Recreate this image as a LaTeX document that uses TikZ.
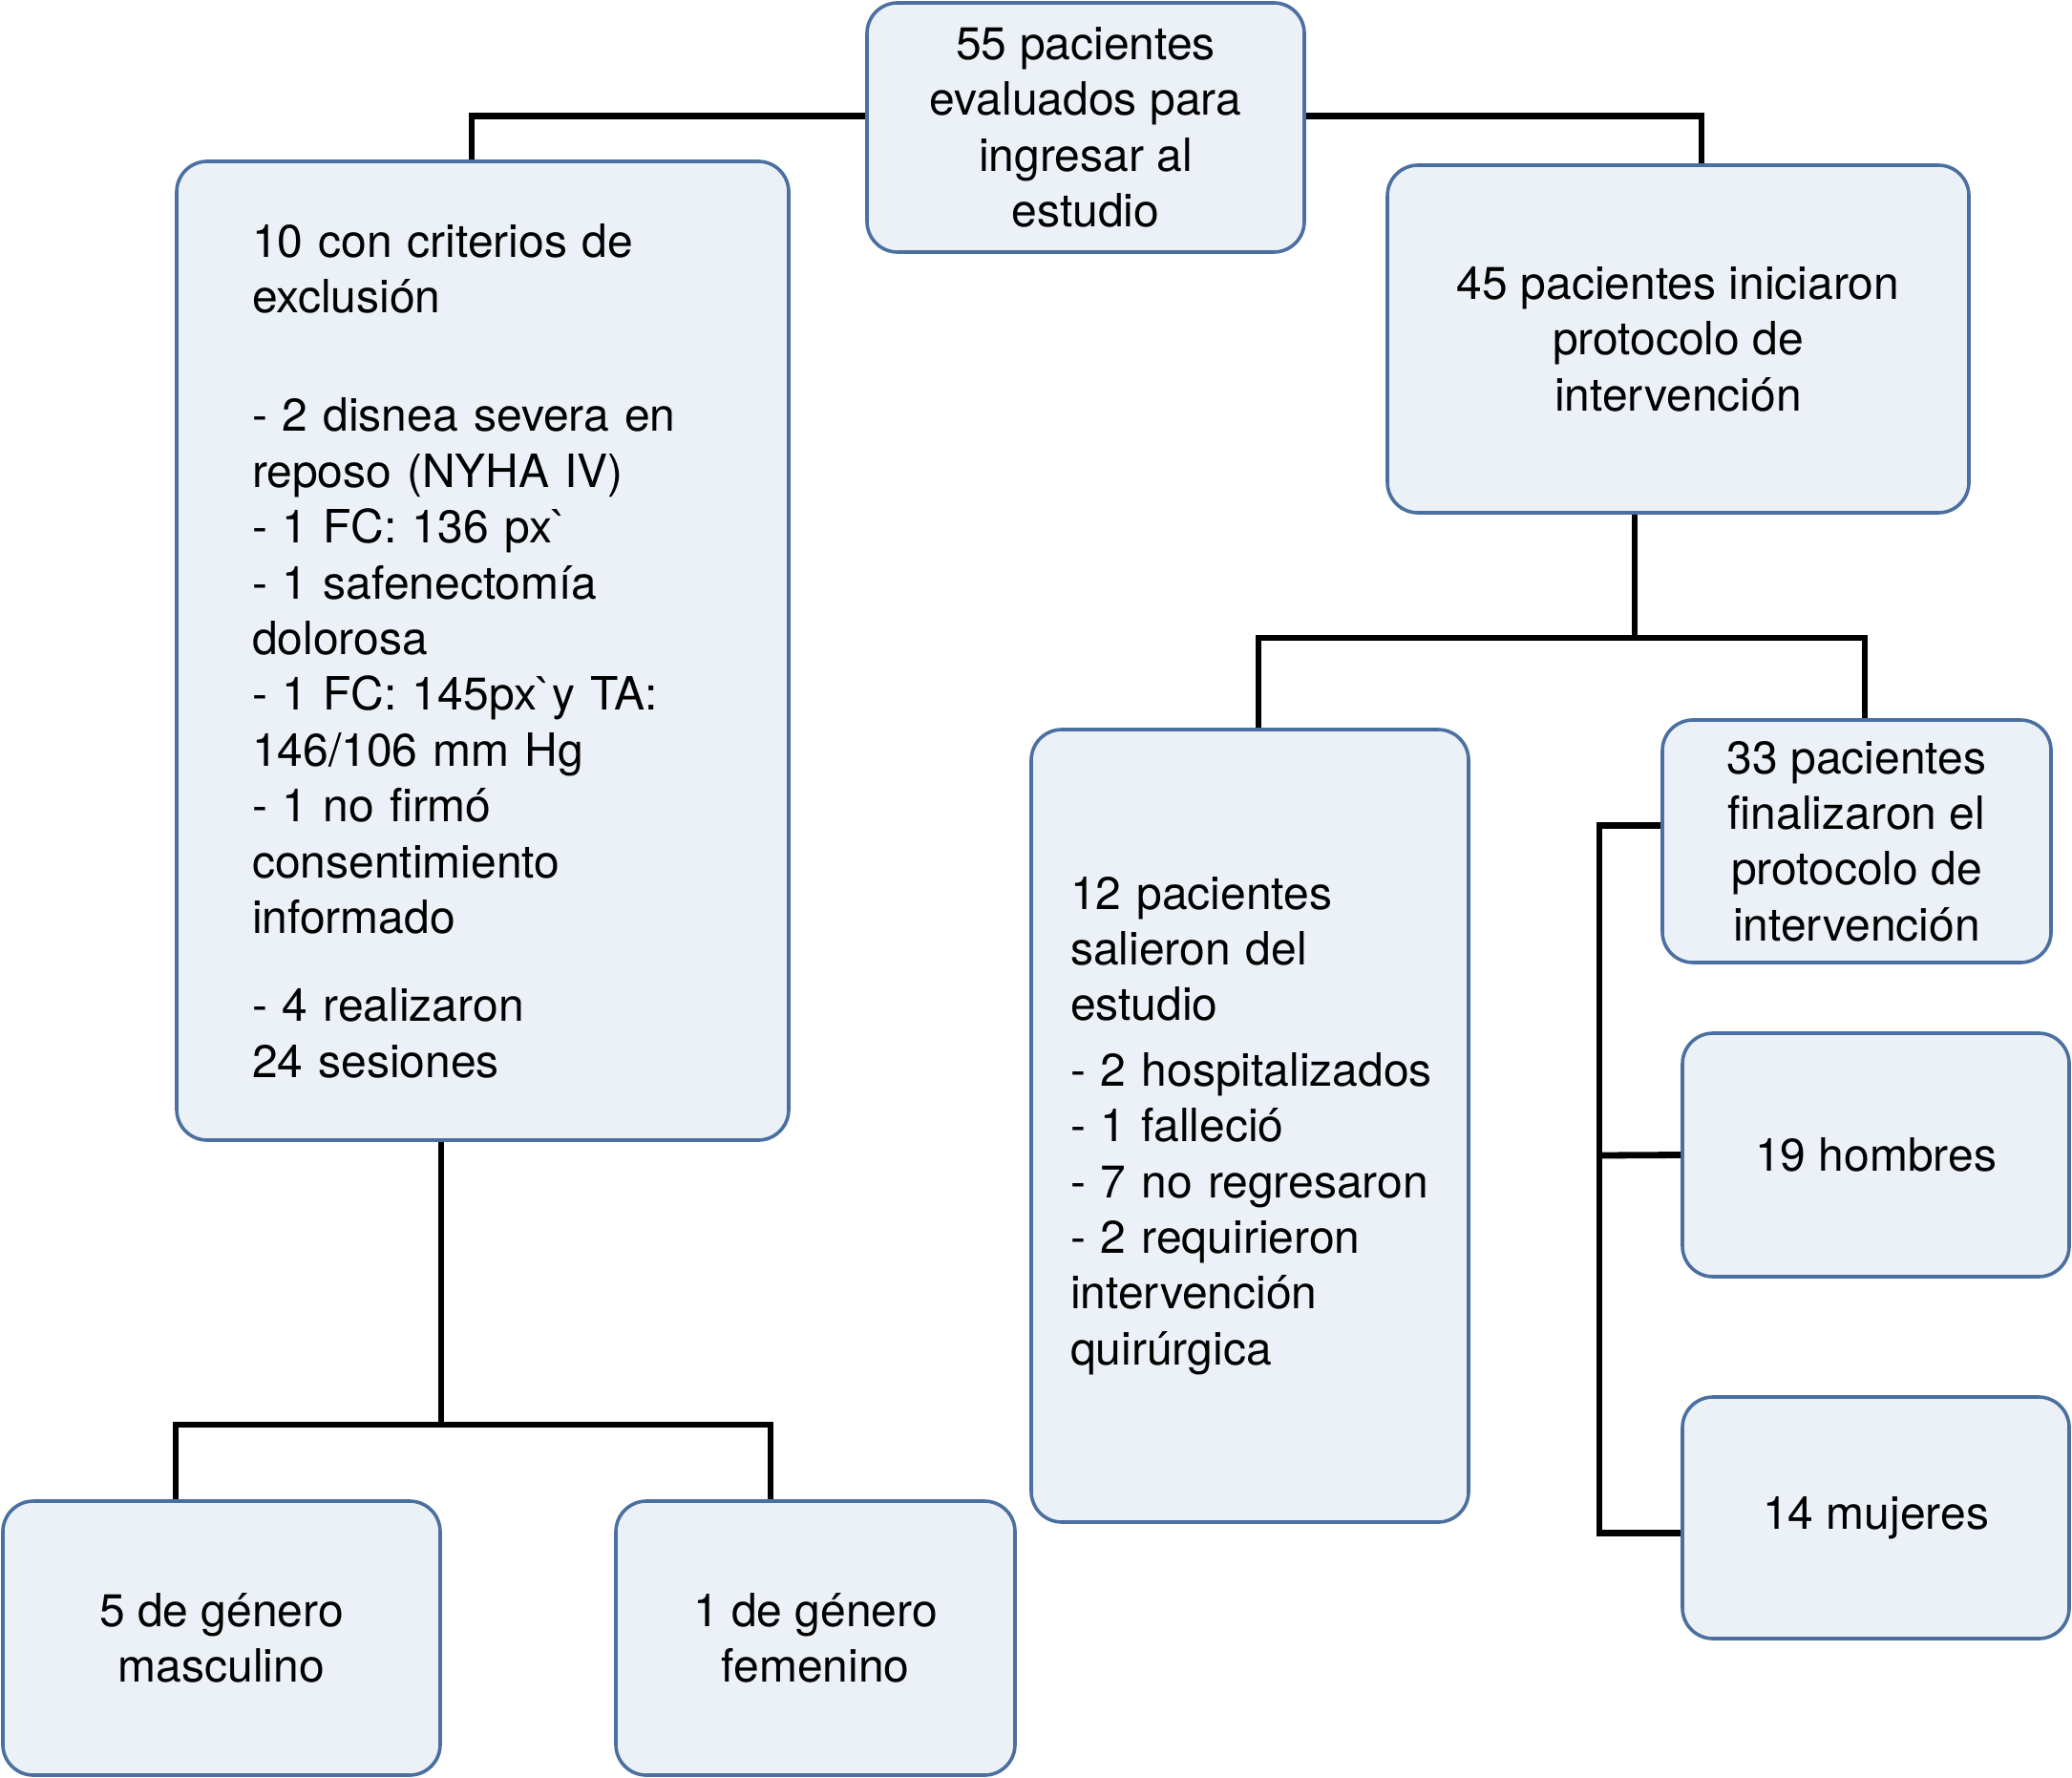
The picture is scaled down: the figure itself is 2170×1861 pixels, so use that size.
\documentclass[tikz,border=0pt]{standalone}
\usepackage{fontspec}
\setmainfont{TeX Gyre Heros}
\definecolor{boxline}{HTML}{4A6FA0}
\definecolor{boxfill}{HTML}{ECF0F7}
\newcommand\flowbox[7]{\node[#1, minimum width=#5*0.25pt, minimum height=#6*0.25pt] (#2) at ({#3+#5/2},{#4+#6/2}) {#7}; }

\begin{document}
\begin{tikzpicture}[x=0.25pt, y=-0.25pt,
    flow/.style={draw=boxline, fill=boxfill, line width=0.9pt, rounded corners=8pt,
                 font=\fontsize{12pt}{14.6pt}\selectfont, inner sep=0pt},
    mid/.style={flow, align=center},
    lft/.style={flow, align=left},
    link/.style={line width=1.7pt}]
    \useasboundingbox (0,0) rectangle (2170,1861);

    	\flowbox{mid}{top}{908}{3}{458}{261}{55 pacientes\\evaluados para\\ingresar al\\estudio}
    	\flowbox{lft, text width=120.75pt, inner xsep=19.75pt}{excl}{185}{169}{641}{1025}{10 con criterios de\\exclusión\\[16.5pt]- 2 disnea severa en\\reposo (NYHA IV)\\- 1 FC: 136 px\textasciigrave\\- 1 safenectomía\\dolorosa\\- 1 FC: 145px\textasciigrave y TA:\\146/106 mm Hg\\- 1 no firmó\\consentimiento\\informado\\[8.5pt]- 4 realizaron\\24 sesiones}
    	\flowbox{mid}{inic}{1453}{173}{609}{364}{45 pacientes iniciaron\\protocolo de\\intervención}
    	\flowbox{lft, text width=94pt, inner xsep=10.25pt}{sal}{1080}{764}{458}{830}{12 pacientes\\salieron del\\estudio\\[2.5pt]\mbox{- 2 hospitalizados}\\- 1 falleció\\- 7 no regresaron\\- 2 requirieron\\intervención\\quirúrgica}
    	\flowbox{mid}{fin}{1741}{754}{407}{254}{33 pacientes\\finalizaron el\\protocolo de\\intervención}
    	\flowbox{mid}{hom}{1762}{1082}{405}{255}{19 hombres}
    	\flowbox{mid}{muj}{1762}{1463}{405}{253}{14 mujeres}
    	\flowbox{mid}{masc}{3}{1572}{458}{287}{5 de género\\masculino}
    	\flowbox{mid}{fem}{645}{1572}{418}{287}{1 de género\\femenino}

    	% top to both sides
    	\draw [link] ([yshift=2.9pt]top.west) -| ([xshift=-2.9pt]excl.north);
    	\draw [link] ([yshift=2.9pt]top.east) -| ([xshift=6.1pt]inic.north);

    	% excl to masc and fem
    	\coordinate (fork) at (462,1492);
    	\draw [link] (excl.south -| fork) -- (fork);
    	\draw [link] ([xshift=-12pt]masc.north) |- (fork) -| ([xshift=-11.75pt]fem.north);

    	% inic to sal and fin
    	\coordinate (split) at (1712,668);
    	\draw [link] (inic.south -| split) -- (split);
    	\draw [link] ([xshift=2.25pt]sal.north) |- (split) -| ([xshift=2.1pt]fin.north);

    	% rail to fin, hom and muj
    	\coordinate (rail) at (1675,1210);
    	\draw [link] ([yshift=4.2pt]fin.west) -| (rail) |- ([yshift=-3.9pt]muj.west);
    	\draw [link] (rail) -- (hom.west);
\end{tikzpicture}
\end{document}
